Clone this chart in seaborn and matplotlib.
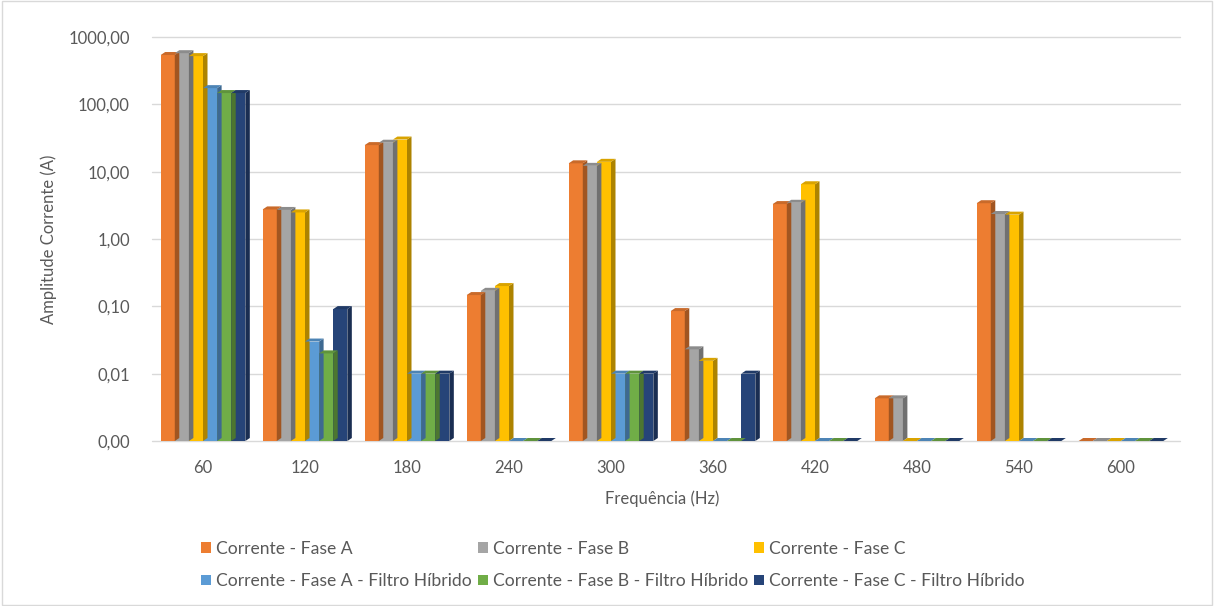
import numpy as np
import pandas as pd
import seaborn as sns
import matplotlib.pyplot as plt
from matplotlib.patches import Polygon, Rectangle
from matplotlib.colors import to_rgb
from matplotlib.ticker import FixedLocator, FixedFormatter

# Frequencies (harmonics) on the x axis
frequencias = ["60", "120", "180", "240", "300", "360", "420", "480", "540", "600"]

# Current amplitudes (A), one list per series
fase_a = [540, 2.75, 24.8, 0.147, 13.3, 0.085, 3.3, 0.0043, 3.4, 0]
fase_b = [575, 2.70, 26.9, 0.170, 12.2, 0.023, 3.45, 0.0043, 2.35, 0]
fase_c = [520, 2.48, 30.0, 0.200, 14.0, 0.0155, 6.5, 0, 2.3, 0]
fase_a_filtro = [174, 0.030, 0.010, 0, 0.010, 0, 0, 0, 0, 0]
fase_b_filtro = [147, 0.020, 0.010, 0, 0.010, 0, 0, 0, 0, 0]
fase_c_filtro = [147, 0.091, 0.010, 0, 0.010, 0.010, 0, 0, 0, 0]

series_nomes = ["Corrente - Fase A", "Corrente - Fase B", "Corrente - Fase C",
                "Corrente - Fase A - Filtro Híbrido", "Corrente - Fase B - Filtro Híbrido",
                "Corrente - Fase C - Filtro Híbrido"]
cores = ["#ED7D31", "#A5A5A5", "#FFC000", "#5B9BD5", "#70AD47", "#264478"]

y_ticks = [0.001, 0.01, 0.1, 1, 10, 100, 1000]
y_labels = ["0,00", "0,01", "0,10", "1,00", "10,00", "100,00", "1000,00"]

# build a long table for seaborn
linhas = []
for nome, vals in zip(series_nomes, [fase_a, fase_b, fase_c, fase_a_filtro, fase_b_filtro, fase_c_filtro]):
    for f, v in zip(frequencias, vals):
        linhas.append({"freq": f, "serie": nome, "valor": max(v, 0.001)})  # zero sits on the floor
df = pd.DataFrame(linhas)

sns.set_style("white")
plt.rcParams["font.family"] = ["Lato", "DejaVu Sans"]

W, H, DPI = 1214, 606, 100
fig = plt.figure(figsize=(W / DPI, H / DPI), dpi=DPI)
ax = fig.add_axes([152 / W, 1 - 441 / H, (1172 - 152) / W, (441 - 37) / H])

sns.barplot(data=df, x="freq", y="valor", hue="serie", hue_order=series_nomes,
            palette=cores, width=0.83, ax=ax, saturation=1, linewidth=0, errorbar=None)
ax.set_yscale("log")
ax.set_ylim(0.001, 1000)
ax.yaxis.set_major_locator(FixedLocator(y_ticks))
ax.yaxis.set_major_formatter(FixedFormatter(y_labels))
ax.yaxis.set_minor_locator(FixedLocator([]))
ax.set_xlim(-0.5, len(frequencias) - 0.5)

# gridlines by hand so they run past the bars like the Excel back wall
for t in y_ticks:
    ax.axhline(t, color="#D9D9D9", lw=1.0, zorder=0, clip_on=False, xmax=1.008)
for s in ax.spines.values():
    s.set_visible(False)
ax.tick_params(axis="both", length=0, colors="#595959", labelsize=12)
ax.tick_params(axis="y", pad=16)
ax.tick_params(axis="x", pad=14)
ax.set_xlabel("Frequência (Hz)", color="#595959", fontsize=12, labelpad=10)
ax.set_ylabel("Amplitude Corrente (A)", color="#595959", fontsize=12, labelpad=8)

handles, labels = ax.get_legend_handles_labels()
ax.legend_.remove()
ordem = [0, 3, 1, 4, 2, 5]
fig.legend([handles[i] for i in ordem], [labels[i] for i in ordem], ncol=3,
           loc="center", bbox_to_anchor=(613 / W, 1 - 565 / H), frameon=False,
           fontsize=12.6, handlelength=0.55, handleheight=0.55, handletextpad=0.3,
           columnspacing=0.35, labelcolor="#595959", labelspacing=0.95)

# fake 3D depth: darker right side and top face for every bar
fig.canvas.draw()
ab = ax.get_window_extent()
dx, dy = 4.5, 3.0
for p in list(ax.patches):
    bb = p.get_window_extent()
    x0, x1 = bb.x0, bb.x1
    y0 = max(bb.y0, ab.y0)
    y1 = max(bb.y1, ab.y0)
    cor = np.array(to_rgb(p.get_facecolor()))
    lado = Polygon([(x1, y0), (x1 + dx, y0 + dy), (x1 + dx, y1 + dy), (x1, y1)], closed=True,
                   transform=None, facecolor=cor * 0.68, edgecolor="none", zorder=3)
    topo = Polygon([(x0, y1), (x1, y1), (x1 + dx, y1 + dy), (x0 + dx, y1 + dy)], closed=True,
                   transform=None, facecolor=cor * 0.85, edgecolor="none", zorder=3)
    fig.add_artist(lado)
    fig.add_artist(topo)

fig.add_artist(Rectangle((0.002, 0.002), 0.996, 0.996, transform=fig.transFigure,
                         fill=False, edgecolor="#D9D9D9", lw=1))

fig.savefig("out.png", dpi=DPI)
